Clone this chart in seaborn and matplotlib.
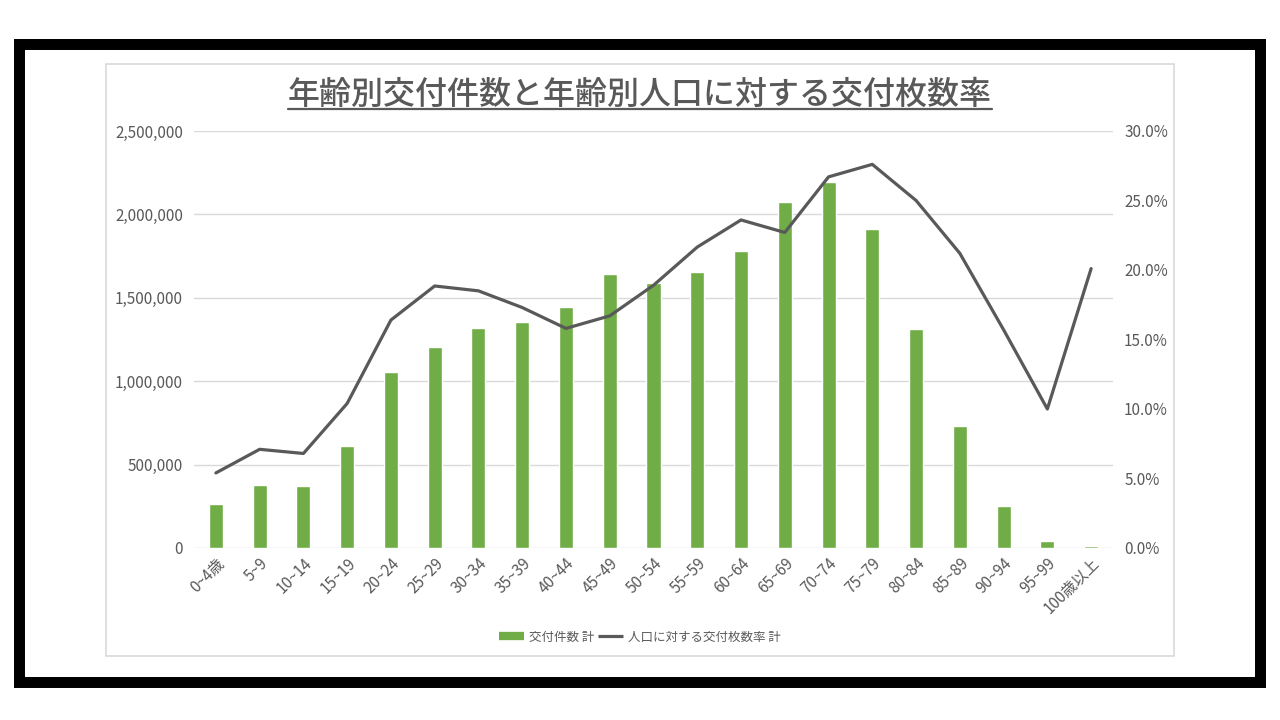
import matplotlib
matplotlib.use("Agg")
import matplotlib.pyplot as plt
from matplotlib.patches import Rectangle
from matplotlib.lines import Line2D
from matplotlib.ticker import FuncFormatter
import seaborn as sns
import pandas as pd

# ---- data ----
age_groups = ["0~4歳", "5~9", "10~14", "15~19", "20~24", "25~29", "30~34",
              "35~39", "40~44", "45~49", "50~54", "55~59", "60~64", "65~69",
              "70~74", "75~79", "80~84", "85~89", "90~94", "95~99", "100歳以上"]
issued_counts = [262000, 380000, 372000, 613000, 1055000, 1207000, 1320000,
                 1352000, 1445000, 1642000, 1590000, 1653000, 1778000, 2075000,
                 2195000, 1912000, 1312000, 731000, 252000, 40000, 10000]
issue_rate = [0.054, 0.071, 0.068, 0.104, 0.164, 0.1885, 0.185, 0.173, 0.158,
              0.167, 0.189, 0.2165, 0.236, 0.227, 0.267, 0.276, 0.250, 0.212,
              0.157, 0.100, 0.201]
bar_label = "交付件数 計"
line_label = "人口に対する交付枚数率 計"
title = "年齢別交付件数と年齢別人口に対する交付枚数率"

df = pd.DataFrame({"age": age_groups, "count": issued_counts, "rate": issue_rate})

sns.set_theme(style="white")
plt.rcParams["font.family"] = ["Noto Sans CJK JP", "DejaVu Sans"]

TXT = "#595959"
GREEN = "#70ad47"
GRID = "#d9d9d9"

fig = plt.figure(figsize=(12.8, 7.2), dpi=100)
fig.patch.set_facecolor("white")

W, H = 1280, 720
def fx(x): return x / W
def fy(y): return 1 - y / H

# black frame (stroke centred on edge: 11px thick, outer edge at 13/38/1265/687)
fig.add_artist(Rectangle((fx(18.5), fy(681.5)), fx(1259.5 - 18.5), (681.5 - 43.5) / H,
                         transform=fig.transFigure, facecolor="none",
                         edgecolor="black", linewidth=7.9, zorder=0))
# chart area border
fig.add_artist(Rectangle((fx(106), fy(656)), fx(1174 - 106), (656 - 64) / H,
                         transform=fig.transFigure, facecolor="none",
                         edgecolor=GRID, linewidth=1.2, zorder=0))

ax = fig.add_axes([fx(194), fy(548), fx(1113 - 194), (548 - 131) / H])
ax2 = ax.twinx()

sns.barplot(data=df, x="age", y="count", ax=ax, color=GREEN, width=0.32,
            saturation=1, zorder=2)
sns.lineplot(x=list(range(len(age_groups))), y=df["rate"], ax=ax2,
             color="#595959", linewidth=2.3, zorder=3)

ax.set_xlim(-0.5, len(age_groups) - 0.5)
ax.set_ylim(0, 2500000)
ax2.set_ylim(0, 0.30)
ax.set_yticks([0, 500000, 1000000, 1500000, 2000000, 2500000])
ax2.set_yticks([0, 0.05, 0.10, 0.15, 0.20, 0.25, 0.30])
ax.yaxis.set_major_formatter(FuncFormatter(lambda v, p: f"{int(v):,}"))
ax2.yaxis.set_major_formatter(FuncFormatter(lambda v, p: f"{v*100:.1f}%"))

ax.grid(axis="y", color=GRID, linewidth=1.0, zorder=0)
ax.set_axisbelow(True)
for a in (ax, ax2):
    for s in a.spines.values():
        s.set_visible(False)
    a.tick_params(length=0, colors=TXT, labelsize=11)
ax.set_xlabel("")
ax.set_ylabel("")
ax2.set_ylabel("")
ax.tick_params(axis="y", pad=8)
ax2.tick_params(axis="y", pad=8)
ax.tick_params(axis="x", pad=5)
ax.set_xticks(range(len(age_groups)))
ax.set_xticklabels(age_groups, rotation=45, ha="right", rotation_mode="anchor",
                   fontsize=11, color=TXT)

# title with underline
t = fig.text(0.5, fy(95), title, ha="center", va="center", fontsize=23,
             color=TXT, fontweight="medium")
fig.canvas.draw()
bb = t.get_window_extent(fig.canvas.get_renderer())
fig.add_artist(Line2D([bb.x0 / W, bb.x1 / W], [fy(109), fy(109)],
                      transform=fig.transFigure, color=TXT, linewidth=1.6))

handles = [Line2D([0], [0], color=GREEN, linewidth=6, solid_capstyle="butt"),
           Line2D([0], [0], color="#595959", linewidth=2.3, solid_capstyle="butt")]
fig.legend(handles, [bar_label, line_label], loc="center",
           bbox_to_anchor=(0.5, fy(637)), ncol=2, frameon=False,
           fontsize=9, handlelength=2.0, handletextpad=0.4,
           columnspacing=0.3, labelcolor=TXT)

fig.savefig("out.png", dpi=100, facecolor="white")
